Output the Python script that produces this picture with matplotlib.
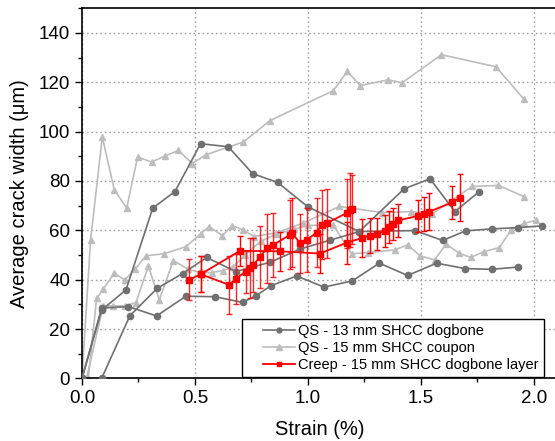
import matplotlib
matplotlib.use("Agg")
import matplotlib.pyplot as plt
from matplotlib.lines import Line2D
from matplotlib.legend_handler import HandlerLine2D
from matplotlib.ticker import MultipleLocator

plt.rcParams['font.family'] = ['Liberation Sans', 'DejaVu Sans']

# ---------------- data ----------------
# QS - 13 mm SHCC dogbone (dark grey, circles)
d1_x = [0, 0.087, 0.195, 0.313, 0.411, 0.525, 0.647, 0.755, 0.866, 1.0, 1.227, 1.473, 1.596, 1.698, 1.815, 1.93, 2.034]
d1_y = [0, 27.7, 35.9, 69.0, 75.7, 95.1, 93.9, 83.0, 79.4, 69.5, 59.5, 59.9, 55.9, 59.8, 60.6, 61.1, 61.8]
d2_x = [0.087, 0.212, 0.333, 0.445, 0.552, 0.68, 0.83, 0.965, 1.097, 1.227, 1.425, 1.54, 1.65, 1.758]
d2_y = [0, 25.4, 36.5, 42.5, 49.0, 43.3, 47.0, 52.4, 56.0, 59.5, 76.8, 80.9, 67.6, 75.7]
d3_x = [0, 0.087, 0.205, 0.33, 0.46, 0.588, 0.711, 0.77, 0.835, 0.95, 1.071, 1.196, 1.316, 1.441, 1.569, 1.695, 1.813, 1.928]
d3_y = [0, 28.5, 29.1, 25.3, 33.3, 33.1, 30.8, 33.5, 37.5, 41.5, 37.0, 39.5, 46.7, 41.7, 46.7, 44.5, 44.2, 45.1]

# QS - 15 mm SHCC coupon (light grey, triangles)
l1_x = [0, 0.038, 0.09, 0.143, 0.198, 0.246, 0.308, 0.369, 0.427, 0.488, 0.547, 0.714, 0.832, 1.112, 1.174, 1.231, 1.355, 1.417, 1.59, 1.832, 1.954]
l1_y = [0, 56.1, 97.8, 76.4, 69.0, 89.7, 87.7, 90.2, 92.4, 87.0, 90.6, 95.8, 104.5, 116.6, 124.4, 118.7, 121.0, 119.8, 131.2, 126.3, 113.3]
l2_x = [0.028, 0.065, 0.094, 0.142, 0.19, 0.235, 0.283, 0.363, 0.46, 0.525, 0.562, 0.621, 0.665, 0.714, 0.76, 0.86, 0.98, 1.139, 1.327, 1.456, 1.55, 1.727, 1.843, 1.956]
l2_y = [0, 32.5, 36.1, 42.6, 39.9, 44.3, 49.7, 50.5, 53.4, 58.6, 61.5, 57.9, 61.9, 60.2, 57.5, 59.0, 63.0, 69.7, 67.2, 67.6, 66.7, 77.8, 78.2, 73.7]
l3_x = [0.02, 0.094, 0.139, 0.19, 0.239, 0.294, 0.342, 0.404, 0.47, 0.522, 0.574, 0.625, 0.67, 0.721, 0.79, 0.86, 0.94, 1.0, 1.112, 1.193, 1.267, 1.385, 1.441, 1.496, 1.56, 1.611, 1.67, 1.72, 1.78, 1.846, 1.9, 1.957, 2.01]
l3_y = [0, 29.3, 29.4, 29.4, 30.7, 45.6, 31.8, 47.7, 44.3, 42.9, 42.9, 43.7, 45.3, 50.0, 55.5, 58.5, 60.5, 62.0, 62.2, 50.5, 51.0, 52.1, 54.1, 49.7, 48.0, 54.4, 50.7, 49.0, 51.4, 53.0, 60.2, 62.9, 64.0]

# Creep - 15 mm SHCC dogbone layer (red, squares, with error bars)
r1_x = [0.525, 0.699, 0.876, 1.053, 1.171, 1.237, 1.274, 1.304, 1.341, 1.36, 1.378, 1.4, 1.488, 1.513, 1.537, 1.638, 1.673]
r1_y = [42.2, 51.7, 51.5, 50.6, 55.0, 56.8, 57.9, 58.6, 59.8, 61.3, 62.6, 64.0, 65.9, 66.7, 67.6, 71.3, 73.3]
r1_e = [7.2, 6.0, 8.0, 8.0, 8.5, 7.6, 7.0, 6.5, 6.6, 6.5, 6.5, 6.7, 6.6, 7.0, 7.5, 6.6, 9.4]
r2_x = [0.474, 0.525, 0.652, 0.68, 0.724, 0.743, 0.758, 0.788, 0.817, 0.847, 0.92, 0.928, 0.965, 0.994, 1.038, 1.06, 1.083, 1.171, 1.186, 1.193]
r2_y = [39.9, 42.2, 37.9, 40.3, 43.3, 44.7, 46.0, 49.1, 52.8, 54.1, 58.2, 59.1, 54.8, 56.1, 59.1, 62.2, 62.9, 67.0, 68.3, 68.6]
r2_e = [8.3, 7.2, 11.9, 10.0, 8.5, 12.0, 11.0, 12.5, 14.0, 13.0, 14.0, 14.0, 12.0, 13.0, 14.0, 14.0, 14.0, 14.0, 15.0, 14.0]

labels = ["QS - 13 mm SHCC dogbone", "QS - 15 mm SHCC coupon", "Creep - 15 mm SHCC dogbone layer"]
c_dark = "#707070"
c_light = "#bdbdbd"
c_red = "#ff0000"

# ---------------- figure ----------------
fig = plt.figure(figsize=(5.55, 4.41), dpi=100)
ax = fig.add_axes([0.1477, 0.1420, 0.8551, 0.8392])

for xs, ys in [(l1_x, l1_y), (l2_x, l2_y), (l3_x, l3_y)]:
    ax.plot(xs, ys, color=c_light, lw=1.2, marker='^', ms=5, mec=c_light, mfc=c_light, zorder=2)
for xs, ys in [(d1_x, d1_y), (d2_x, d2_y), (d3_x, d3_y)]:
    ax.plot(xs, ys, color=c_dark, lw=1.2, marker='o', ms=4.5, mec=c_dark, mfc=c_dark, zorder=3)

ax.errorbar(r2_x, r2_y, yerr=r2_e, fmt='none', ecolor=c_red, elinewidth=1.0, capsize=2.5, capthick=1.0, alpha=0.85, zorder=4)
ax.errorbar(r1_x, r1_y, yerr=r1_e, fmt='none', ecolor=c_red, elinewidth=1.0, capsize=2.5, capthick=1.0, zorder=4)
for xs, ys in [(r2_x, r2_y), (r1_x, r1_y)]:
    ax.plot(xs, ys, color=c_red, lw=1.3, marker='s', ms=4.8, mec=c_red, mfc=c_red, zorder=5)

ax.set_xlim(0, 2.1)
ax.set_ylim(0, 150)
ax.xaxis.set_minor_locator(MultipleLocator(0.25))
ax.yaxis.set_minor_locator(MultipleLocator(10))
ax.set_xticks([0, 0.5, 1.0, 1.5, 2.0])
ax.set_xticklabels(["0.0", "0.5", "1.0", "1.5", "2.0"])
ax.set_yticks([0, 20, 40, 60, 80, 100, 120, 140])
ax.tick_params(which='major', direction='out', length=5, width=1, labelsize=13.5, colors='black')
ax.tick_params(which='minor', direction='out', length=3, width=1)
ax.tick_params(top=False, right=False, which='both')
ax.grid(True, which='major', color='#a0a0a0', linestyle=(0, (1.2, 2.0)), linewidth=1.0, zorder=0)
ax.set_axisbelow(True)
ax.spines['right'].set_visible(False)
for s in ['left', 'bottom', 'top']:
    ax.spines[s].set_linewidth(1.2)

ax.set_xlabel("Strain (%)", fontsize=14.5, labelpad=9)
ax.set_ylabel("Average crack width (\u03bcm)", fontsize=14.5, labelpad=7)

handles = [
    Line2D([], [], color=c_dark, lw=1.2, marker='o', ms=3.5),
    Line2D([], [], color=c_light, lw=1.2, marker='^', ms=4),
    Line2D([], [], color=c_red, lw=1.3, marker='s', ms=3.5),
]
hmap = {h: HandlerLine2D(xpad=1.07) for h in handles}
leg = ax.legend(handles, labels, loc='lower right', bbox_to_anchor=(0.974, 0.003), fontsize=10.5,
                frameon=True, fancybox=False, edgecolor='black', framealpha=1, borderaxespad=0,
                handlelength=3.2, handletextpad=0.25, labelspacing=0.18, borderpad=0.38,
                handler_map=hmap)
leg.get_frame().set_linewidth(1.0)
leg.set_zorder(10)

fig.savefig("out.png", dpi=100)
